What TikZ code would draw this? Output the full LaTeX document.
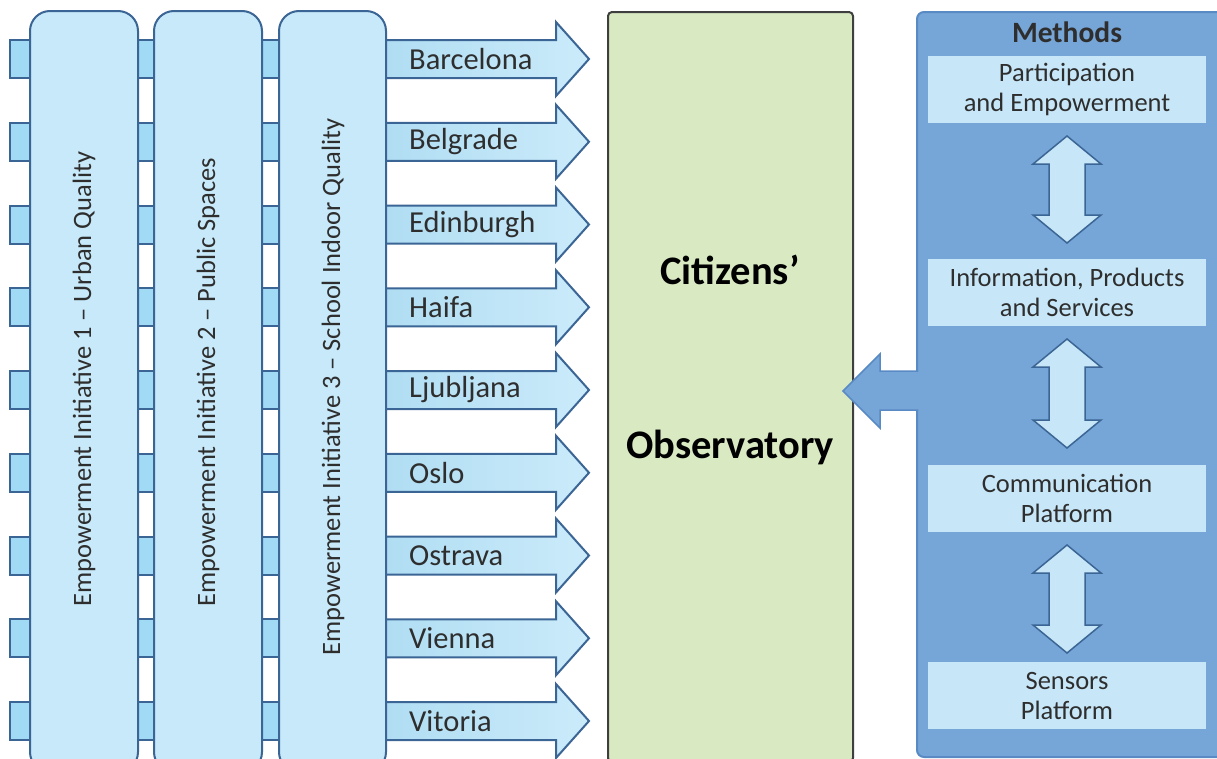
\documentclass[tikz,border=0pt]{standalone}
\usepackage{fontspec}
\setmainfont{Carlito}
\definecolor{colfill}{HTML}{C7E9F9}
\definecolor{tabfill}{HTML}{A0DAF5}
\definecolor{bord}{HTML}{3B6594}
\definecolor{arrL}{HTML}{B0DDF3}
\definecolor{arrR}{HTML}{CBEBFA}
\definecolor{obsfill}{HTML}{D9E9C2}
\definecolor{obsbord}{HTML}{3F3F3F}
\definecolor{methfill}{HTML}{76A5D7}
\definecolor{methbord}{HTML}{5A8AC4}
\definecolor{innerfill}{HTML}{C7E7F8}
\definecolor{txt}{HTML}{2E2E2E}
\tikzset{
  colbox/.style={draw=bord, line width=2pt, fill=colfill, rounded corners=20pt},
  tabbox/.style={draw=bord, line width=2pt, fill=tabfill},
  cityarrow/.style={draw=bord, line width=2pt, left color=arrL, right color=arrR, line join=miter},
  citylabel/.style={anchor=west, font=\fontsize{30.5}{30.5}\selectfont, text=txt, inner sep=0pt},
  coltext/.style={rotate=90, font=\fontsize{26.5}{26.5}\selectfont, text=txt, inner sep=0pt},
  inner/.style={fill=innerfill, minimum width=278pt, minimum height=67pt, align=center, text=txt, font=\fontsize{26.5}{30}\selectfont, inner sep=0pt},
  dblarrow/.style={draw=bord, line width=1.5pt, fill=innerfill, line join=miter},
}
\begin{document}
\begin{tikzpicture}[x=1pt,y=-1pt]
\useasboundingbox (0,0) rectangle (1217,758);
\clip (0,0) rectangle (1217,758);
% tabs
\foreach \i in {0,...,8}{
  \pgfmathsetmacro{\c}{59+82.75*\i}
  \draw[tabbox] (10,\c-19) rectangle (32,\c+19);
  \draw[tabbox] (136,\c-19) rectangle (156,\c+19);
  \draw[tabbox] (260,\c-19) rectangle (281,\c+19);
}
% city arrows
\foreach \name [count=\i from 0] in {Barcelona,Belgrade,Edinburgh,Haifa,Ljubljana,Oslo,Ostrava,Vienna,Vitoria}{
  \pgfmathsetmacro{\c}{59+82.75*\i}
  \draw[cityarrow] (384,\c-19) -- (556,\c-19) -- (556,\c-37) -- (589,\c) -- (556,\c+37) -- (556,\c+19) -- (384,\c+19) -- cycle;
  \node[citylabel] (city\i) at (409,\c) {\name};
}
% columns
\draw[colbox] (30,11) rectangle (138,772);
\draw[colbox] (154,11) rectangle (262,772);
\draw[colbox] (279,11) rectangle (386,772);
\node[coltext] (ei1) at (84,379) {Empowerment Initiative 1 – Urban Quality};
\node[coltext] (ei2) at (208,382) {Empowerment Initiative 2 – Public Spaces};
\node[coltext] (ei3) at (333,387) {Empowerment Initiative 3 – School Indoor Quality};
% observatory
\node[draw=obsbord, line width=2pt, fill=obsfill, rounded corners=4pt, minimum width=245pt, minimum height=750pt, anchor=north west, inner sep=0pt] (obs) at (607,11) {};
\node[font=\bfseries\fontsize{40.5}{40.5}\selectfont, text=black] (cit) at (730,270) {Citizens’};
\node[font=\bfseries\fontsize{40.5}{40.5}\selectfont, text=black] (obsv) at (730,447) {Observatory};
% methods
\node[draw=methbord, line width=2pt, fill=methfill, rounded corners=7pt, minimum width=310pt, minimum height=745pt, anchor=north west, inner sep=0pt] (meth) at (916,11) {};
\node[font=\bfseries\fontsize{29.5}{29.5}\selectfont, text=txt] (methl) at (1067,32) {Methods};
\node[inner] (m1) at (1067,89) {Participation\\and Empowerment};
\node[inner] (m2) at (1067,292.5) {Information, Products\\and Services};
\node[inner] (m3) at (1067,498.5) {Communication\\Platform};
\node[inner] (m4) at (1067,695.5) {Sensors\\Platform};
% double arrows
\foreach \t/\b in {136/243, 339/448, 545/653}{
  \draw[dblarrow] (1067,\t) -- (1101,\t+28) -- (1085,\t+28) -- (1085,\b-28) -- (1101,\b-28) -- (1067,\b) -- (1033,\b-28) -- (1049,\b-28) -- (1049,\t+28) -- (1033,\t+28) -- cycle;
}
% arrow to observatory
\draw[draw=methbord, line width=1.5pt, fill=methfill, line join=miter] (918,371) -- (880,371) -- (880,354) -- (843,391) -- (880,428) -- (880,410) -- (918,410);
\fill[methfill] (914,372) rectangle (920,409);
\end{tikzpicture}
\end{document}
